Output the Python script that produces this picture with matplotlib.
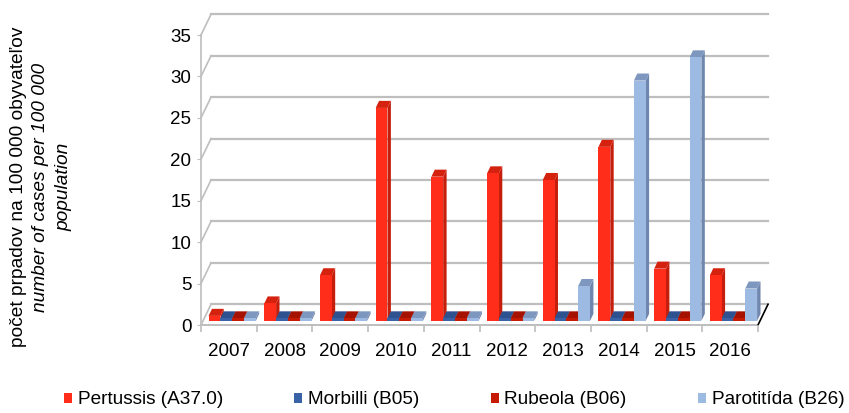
# -*- coding: utf-8 -*-
from matplotlib import pyplot as plt
from matplotlib.patches import Polygon, Patch
import numpy as np

plt.rcParams['font.family'] = ['Liberation Sans', 'DejaVu Sans']

years = ['2007', '2008', '2009', '2010', '2011', '2012', '2013', '2014', '2015', '2016']
series_names = ['Pertussis (A37.0)', 'Morbilli (B05)', 'Rubeola (B06)', 'Parotitída (B26)']
pertussis = [0.6, 2.1, 5.5, 25.7, 17.4, 17.8, 17.0, 21.0, 6.3, 5.5]
morbilli = [0.3, 0.3, 0.3, 0.3, 0.3, 0.3, 0.3, 0.3, 0.3, 0.3]
rubeola = [0.3, 0.3, 0.3, 0.3, 0.3, 0.3, 0.3, 0.3, 0.3, 0.3]
parotitida = [0.3, 0.3, 0.3, 0.3, 0.3, 0.3, 4.2, 29.0, 31.8, 3.9]
y_ticks = [0, 5, 10, 15, 20, 25, 30, 35]

# front / top / side face colours per series
FACE = ['#FF2D19', '#3A62A7', '#C71A02', '#9DBAE3']
TOP = ['#D5220F', '#2E5190', '#A51300', '#7E97BF']
SIDE = ['#C61E0C', '#284781', '#931100', '#6F86AE']

DX, DY = 0.18, 2.5          # full depth offset of the walls (cat units, value units)
D0, BAR_D = 0.2, 0.34       # bar front plane depth and bar depth
GROUP_START, BAR_W = 0.10, 0.212
GRID = '#BEBEBE'


def P(x, y, d):
    return (x + d * DX, y + d * DY)


fig = plt.figure(figsize=(8.49, 4.13), dpi=100)
ax = fig.add_axes([201 / 849, 88 / 413, 557 / 849, 290 / 413])
ax.set_xlim(0, 10)
ax.set_ylim(0, 35)
for s in ax.spines.values():
    s.set_visible(False)

n = len(years)
# back wall gridlines and left wall diagonals
for v in y_ticks:
    ax.plot(*zip(P(0, v, 1), P(n, v, 1)), color=GRID, lw=1.6, clip_on=False, zorder=1)
    ax.plot(*zip(P(0, v, 0), P(0, v, 1)), color=GRID, lw=1.2, clip_on=False, zorder=1)
ax.plot(*zip(P(0, 0, 0), P(0, y_ticks[-1], 0)), color=GRID, lw=1.2, clip_on=False, zorder=1)
# floor
ax.plot(*zip(P(0, 0, 0), P(n, 0, 0)), color=GRID, lw=1.4, clip_on=False, zorder=1)
ax.plot(*zip(P(n, 0, 0), P(n, 0, 1)), color='black', lw=1.2, clip_on=False, zorder=1)

data = [pertussis, morbilli, rubeola, parotitida]
z = 2
for i in range(n):
    for k, vals in enumerate(data):
        x0 = i + GROUP_START + k * BAR_W
        x1 = x0 + BAR_W
        h = vals[i]
        front = [P(x0, 0, D0), P(x1, 0, D0), P(x1, h, D0), P(x0, h, D0)]
        side = [P(x1, 0, D0), P(x1, 0, D0 + BAR_D), P(x1, h, D0 + BAR_D), P(x1, h, D0)]
        top = [P(x0, h, D0), P(x1, h, D0), P(x1, h, D0 + BAR_D), P(x0, h, D0 + BAR_D)]
        ax.add_patch(Polygon(side, closed=True, facecolor=SIDE[k], edgecolor='none', clip_on=False, zorder=z))
        ax.add_patch(Polygon(top, closed=True, facecolor=TOP[k], edgecolor='none', clip_on=False, zorder=z))
        ax.add_patch(Polygon(front, closed=True, facecolor=FACE[k], edgecolor='none', clip_on=False, zorder=z))
        z += 1

ax.set_yticks(y_ticks)
ax.set_yticklabels([str(v) for v in y_ticks], fontsize=13.5)
ax.tick_params(axis='y', length=3, color=GRID, pad=4)
ax.set_xticks(np.arange(n) + 0.5)
ax.set_xticklabels(years, fontsize=13.5)
ax.set_xticks(np.arange(n + 1), minor=True)
ax.tick_params(axis='x', which='major', length=0, pad=13)
ax.tick_params(axis='x', which='minor', length=5, color=GRID, width=1.2)

fig.text(19 / 849, 1 - 187 / 413, 'počet prpadov na 100 000 obyvateľov', rotation=90,
         ha='center', va='center', fontsize=13.8)
fig.text(41 / 849, 1 - 187 / 413, 'number of cases per 100 000', rotation=90,
         ha='center', va='center', fontsize=13.8, style='italic')
fig.text(64 / 849, 1 - 187 / 413, 'population', rotation=90,
         ha='center', va='center', fontsize=13.8, style='italic')

handles = [Patch(facecolor=FACE[k], edgecolor='none', label=series_names[k]) for k in range(4)]
fig.legend(handles=handles, ncol=4, loc='center left', bbox_to_anchor=(56 / 849, 1 - 400 / 413),
           frameon=False, fontsize=13.7, handlelength=0.43, handleheight=0.43,
           handletextpad=0.3, columnspacing=3.75, borderaxespad=0)

plt.savefig('out.png', dpi=100)
